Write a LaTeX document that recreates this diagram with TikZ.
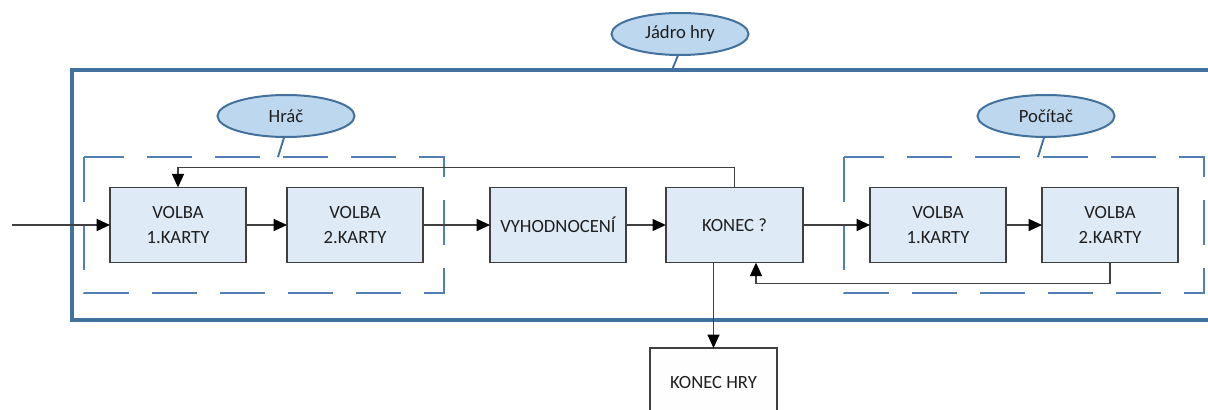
\documentclass[tikz,border=0pt]{standalone}
\usepackage{fontspec}
\setmainfont{Carlito}
\usetikzlibrary{arrows.meta,calc,shapes.geometric}
\definecolor{boxfill}{HTML}{DEEAF6}
\definecolor{boxline}{HTML}{404040}
\definecolor{ellfill}{HTML}{BDD7EE}
\definecolor{ellline}{HTML}{41719C}
\definecolor{outerline}{HTML}{41719C}
\definecolor{dashline}{HTML}{5080B4}
\definecolor{txt}{HTML}{1F1F1F}
\tikzset{
  stepbox/.style={draw=boxline, line width=1.1pt, fill=boxfill, rectangle,
    minimum width=102pt, minimum height=56.5pt, inner sep=0pt, outer sep=0pt,
    align=center, text=txt, font=\fontsize{14}{18.5}\selectfont},
  endbox/.style={stepbox, fill=white!96!boxfill, minimum width=95pt, minimum height=52.5pt},
  label ell/.style={draw=ellline, line width=1.5pt, fill=ellfill, ellipse,
    minimum width=102.75pt, minimum height=31.5pt, inner sep=0pt, outer sep=0pt,
    text=txt, font=\fontsize{14}{17}\selectfont},
  arr/.style={draw=boxline, line width=0.9pt, -{Triangle[length=10pt,width=9pt,color=black]}},
  conn/.style={draw=boxline, line width=0.9pt},
  groupbox/.style={draw=dashline, line width=2pt, dash pattern=on 34pt off 17pt},
  outer/.style={draw=outerline, line width=2.4pt},
  tie/.style={draw=ellline, line width=1.4pt}
}
\begin{document}
\begin{tikzpicture}[x=0.75pt,y=-0.75pt]
\useasboundingbox (0,0) rectangle (1208,410);
% outer core box
\draw[outer] (1230,70) -- (72,70) -- (72,320) -- (1230,320);
% dashed group boxes
\draw[groupbox] (84,157) rectangle (444,293);
\draw[groupbox] (844,157) rectangle (1204,293);
% label ellipses
\node[label ell] (jadro) at (680,34) {Jádro hry};
\node[label ell] (hrac) at (286,116) {Hráč};
\node[label ell] (pocitac) at (1046,116) {Počítač};
\coordinate (jadrodock) at (672,70);
\coordinate (hracdock) at (278,157);
\coordinate (pocdock) at (1038,157);
\draw[tie] (jadro.265) -- (jadrodock);
\draw[tie] (hrac.265) -- (hracdock);
\draw[tie] (pocitac.265) -- (pocdock);
% process boxes
\node[stepbox] (v1l) at (178,225) {VOLBA\\1.KARTY};
\node[stepbox] (v2l) at (355,225) {VOLBA\\2.KARTY};
\node[stepbox] (vyh) at (558,225) {VYHODNOCENÍ};
\node[stepbox, minimum width=103pt] (kon) at (734.5,225) {KONEC ?};
\node[stepbox] (v1r) at (938,225) {VOLBA\\1.KARTY};
\node[stepbox] (v2r) at (1110,225) {VOLBA\\2.KARTY};
\node[endbox] (konhry) at (713.5,383) {KONEC HRY};
% connectors
\coordinate (start) at (12,225);
\draw[arr] (start) -- (v1l.west);
\draw[arr] (v1l.east) -- (v2l.west);
\draw[arr] (v2l.east) -- (vyh.west);
\draw[arr] (vyh.east) -- (kon.west);
\draw[arr] (kon.east) -- (v1r.west);
\draw[arr] (v1r.east) -- (v2r.west);
\draw[arr] (kon.north) -- ++(0,-20) -| (v1l.north);
\draw[arr] (v2r.south) -- ++(0,20.5) -| ($(kon.south)+(21.5,0)$);
\draw[arr] (konhry.north |- kon.south) -- (konhry.north);
\end{tikzpicture}
\end{document}
